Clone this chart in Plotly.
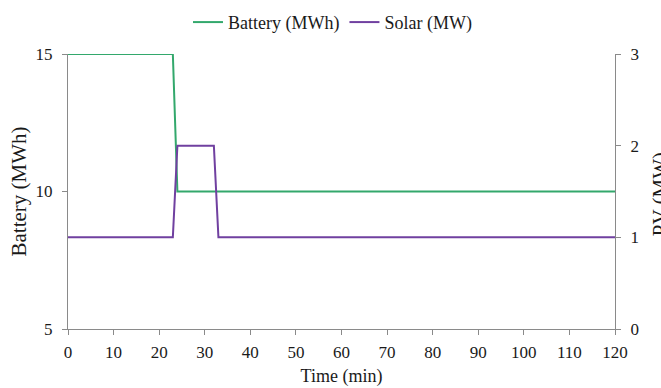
import plotly.graph_objects as go

# Battery state of charge over time (MWh)
battery_time = [0, 23, 24, 120]
battery_mwh = [15, 15, 10, 10]

# Solar PV output over time (MW)
solar_time = [0, 23, 24, 32, 33, 120]
solar_mw = [1, 1, 2, 2, 1, 1]

x_ticks = list(range(0, 121, 10))

GREEN = "#33a86c"
PURPLE = "#7040a0"
AXIS = "#8a8a8a"
SERIF = "Liberation Serif, Times New Roman, serif"
TICK_FONT = dict(family=SERIF, size=17, color="#1a1a1a")
TITLE_FONT = dict(family=SERIF, size=18, color="#1a1a1a")
VTITLE_FONT = dict(family=SERIF, size=21, color="#1a1a1a")

fig = go.Figure()
fig.add_trace(go.Scatter(x=battery_time, y=battery_mwh, mode="lines",
                         name="Battery (MWh)", line=dict(color=GREEN, width=2),
                         yaxis="y"))
fig.add_trace(go.Scatter(x=solar_time, y=solar_mw, mode="lines",
                         name="Solar (MW)", line=dict(color=PURPLE, width=2),
                         yaxis="y2"))

axis_common = dict(showgrid=False, zeroline=False, showline=True, linecolor=AXIS,
                   linewidth=1, ticks="outside", tickcolor=AXIS, ticklen=5,
                   tickfont=TICK_FONT, automargin=False)

fig.update_layout(
    width=661, height=388,
    margin=dict(l=68, r=46, t=54, b=59, autoexpand=False),
    paper_bgcolor="white", plot_bgcolor="white",
    font=TICK_FONT,
    showlegend=True,
    legend=dict(orientation="h", x=0.4835, xanchor="center", y=0.99, yanchor="top",
                yref="container", font=TITLE_FONT, bgcolor="rgba(0,0,0,0)"),
    xaxis=dict(range=[0, 120], tickvals=x_ticks, ticklabelstandoff=3,
               title=dict(text="Time (min)", font=TITLE_FONT, standoff=7),
               **axis_common),
    yaxis=dict(range=[5, 15], tickvals=[5, 10, 15], ticklabelstandoff=6,
               title=dict(text="Battery (MWh)", font=VTITLE_FONT, standoff=3),
               **axis_common),
    yaxis2=dict(range=[0, 3], tickvals=[0, 1, 2, 3], overlaying="y", side="right",
                ticklabelstandoff=6, **axis_common),
)

# Right-hand axis title sits at the very edge of the page
fig.add_annotation(text="PV (MW)", textangle=-90, showarrow=False,
                   xref="paper", yref="paper", x=1.0, y=0.49,
                   xanchor="left", yanchor="middle", xshift=31, font=VTITLE_FONT)

fig.write_html("out.html")
